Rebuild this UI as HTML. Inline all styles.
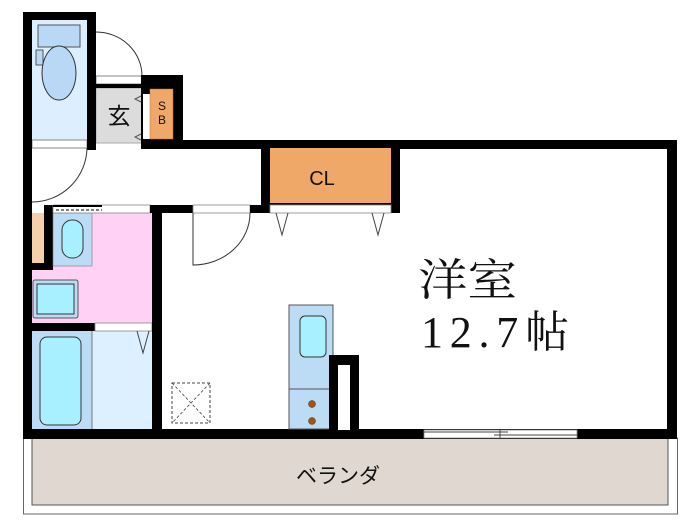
<!DOCTYPE html>
<html><head><meta charset="utf-8"><style>
html,body{margin:0;padding:0;background:#fff;width:700px;height:525px;overflow:hidden}
svg{display:block}
text{font-family:"Liberation Sans","Noto Sans CJK JP",sans-serif}
</style></head><body>
<svg width="700" height="525" viewBox="0 0 700 525" xmlns="http://www.w3.org/2000/svg">
<!-- veranda -->
<rect x="23.5" y="438" width="654" height="76" fill="#fff" stroke="#666" stroke-width="1"/>
<rect x="32" y="438" width="636" height="67" fill="#e0d8d0" stroke="#555" stroke-width="1"/>
<text x="338" y="483" font-size="21" text-anchor="middle" fill="#111">ベランダ</text>

<!-- toilet -->
<rect x="32" y="20" width="55" height="120" fill="#ddefff"/>
<rect x="38" y="25" width="42" height="22" fill="#b8d8f5" stroke="#555" stroke-width="1"/>
<rect x="36" y="50" width="7" height="15" fill="#b8d8f5" stroke="#555" stroke-width="1"/>
<ellipse cx="59" cy="73" rx="17" ry="27" fill="#b8d8f5" stroke="#333" stroke-width="1"/>
<rect x="32" y="140" width="55" height="8" fill="#fff" stroke="#888" stroke-width="1"/>
<path d="M87 148 A55 55 0 0 1 32 202" fill="none" stroke="#333" stroke-width="1"/>

<!-- genkan -->
<rect x="96" y="88" width="46" height="55" fill="#dcdcdc" stroke="#aaa" stroke-width="1"/>
<text x="119" y="124" font-size="23" text-anchor="middle" fill="#111">玄</text>
<rect x="96" y="76" width="46" height="8" fill="#fff" stroke="#888" stroke-width="1"/>
<path d="M96 32 A46 44 0 0 1 142 76" fill="none" stroke="#333" stroke-width="1"/>
<rect x="96" y="84" width="46" height="4" fill="#000"/>
<rect x="141" y="75" width="42" height="74" fill="#000"/>
<rect x="143" y="94" width="7" height="45" fill="#fff"/>
<rect x="150" y="89" width="23" height="50" fill="#f0a868" stroke="#c07030" stroke-width="0.5"/>
<text x="162" y="110" font-size="12" text-anchor="middle" fill="#111">S</text>
<text x="162" y="124" font-size="12" text-anchor="middle" fill="#111">B</text>
<path d="M141 96 l-6 3 l6 3 M141 134 l-6 3 l6 3" fill="none" stroke="#555" stroke-width="1"/>

<!-- outer left wall + toilet walls -->
<rect x="23" y="12" width="9" height="427" fill="#000"/>
<rect x="23" y="12" width="73" height="8" fill="#000"/>
<rect x="87" y="12" width="9" height="138" fill="#000"/>

<!-- corridor top wall -->
<rect x="173" y="140" width="504" height="9" fill="#000"/>

<!-- washroom -->
<rect x="32" y="213" width="120" height="110" fill="#ffd2f5"/>
<rect x="32" y="213" width="12" height="50" fill="#f5d0a8"/>
<rect x="44" y="205" width="9" height="65" fill="#000"/>
<rect x="32" y="263" width="21" height="7" fill="#000"/>
<rect x="53" y="213" width="39" height="53" fill="#bcdcf5" stroke="#777" stroke-width="0.6"/>
<rect x="62" y="220" width="21" height="38" rx="10" fill="#a8f0ff" stroke="#333" stroke-width="1"/>
<rect x="33" y="280" width="45" height="38" rx="2" fill="#bcdcf5" stroke="#555" stroke-width="1"/>
<rect x="37" y="284" width="37" height="30" fill="#a8f0ff" stroke="#333" stroke-width="1"/>
<!-- sliding strip -->
<rect x="53" y="205" width="97" height="8" fill="#fff" stroke="#888" stroke-width="0.8"/>
<line x1="56" y1="210" x2="102" y2="210" stroke="#333" stroke-width="1.2" stroke-dasharray="3,2"/>
<line x1="53" y1="206" x2="102" y2="206" stroke="#000" stroke-width="2"/>

<!-- bath -->
<rect x="32" y="331" width="60" height="98" fill="#bcdcf5"/>
<rect x="92" y="331" width="60" height="98" fill="#ddf0ff"/>
<line x1="92" y1="331" x2="92" y2="429" stroke="#777" stroke-width="1"/>
<rect x="40" y="337" width="41" height="88" rx="7" fill="#a8f0ff" stroke="#333" stroke-width="1"/>
<rect x="32" y="323" width="63" height="8" fill="#000"/>
<rect x="95" y="323" width="57" height="8" fill="#fff" stroke="#888" stroke-width="0.8"/>
<path d="M137 331 L143 353 L149 331" fill="none" stroke="#444" stroke-width="1"/>

<!-- corridor bottom wall and room left wall -->
<rect x="150" y="205" width="43" height="8" fill="#000"/>
<rect x="193" y="205" width="57" height="8" fill="#fff" stroke="#888" stroke-width="0.8"/>
<rect x="250" y="205" width="20" height="8" fill="#000"/>
<path d="M193 213 L193 265 A57 52 0 0 0 250 213" fill="none" stroke="#333" stroke-width="1"/>
<rect x="152" y="205" width="10" height="234" fill="#000"/>

<!-- CL -->
<rect x="261" y="140" width="139" height="73" fill="#000"/>
<rect x="270" y="148" width="121" height="55" fill="#f0a868"/>
<rect x="270" y="205" width="121" height="8" fill="#fff" stroke="#888" stroke-width="0.8"/>
<text x="322" y="185" font-size="20" text-anchor="middle" fill="#111">CL</text>
<path d="M276 213 L282 235 L288 213 M372 213 L378 235 L384 213" fill="none" stroke="#444" stroke-width="1"/>

<!-- right wall, bottom wall -->
<rect x="667" y="140" width="10" height="299" fill="#000"/>
<rect x="23" y="429" width="654" height="10" fill="#000"/>
<rect x="424" y="430" width="153" height="8" fill="#fff" stroke="#888" stroke-width="0.8"/>
<line x1="424" y1="432" x2="508" y2="432" stroke="#444" stroke-width="1"/>
<line x1="494" y1="435" x2="577" y2="435" stroke="#444" stroke-width="1"/>
<line x1="500" y1="430" x2="500" y2="438" stroke="#444" stroke-width="1"/>

<!-- kitchen -->
<rect x="289" y="305" width="44" height="124" fill="#bcdcf5" stroke="#555" stroke-width="1"/>
<line x1="289" y1="389" x2="333" y2="389" stroke="#555" stroke-width="1"/>
<rect x="300" y="316" width="26" height="41" rx="5" fill="#a8f0ff" stroke="#333" stroke-width="1"/>
<circle cx="312" cy="404" r="3.5" fill="#a85010" stroke="#333" stroke-width="0.5"/>
<circle cx="312" cy="421" r="3.5" fill="#a85010" stroke="#333" stroke-width="0.5"/>
<rect x="329" y="355" width="30" height="75" fill="#000"/>
<rect x="338" y="365" width="12" height="65" fill="#fff"/>

<!-- floor hatch -->
<rect x="172" y="383" width="38" height="40" fill="none" stroke="#444" stroke-width="1" stroke-dasharray="3,2"/>
<path d="M172 383 L210 423 M210 383 L172 423" stroke="#444" stroke-width="0.8" stroke-dasharray="3,2"/>

<!-- room label -->
<text x="418" y="295" font-size="44" textLength="99" lengthAdjust="spacingAndGlyphs" fill="#111" style='font-family:"Liberation Serif","Noto Serif CJK SC",serif'>洋室</text>
<text x="421" y="347" font-size="44" textLength="148" lengthAdjust="spacing" fill="#111" style='font-family:"Liberation Serif","Noto Serif CJK SC",serif'>12.7帖</text>
</svg>
</body></html>
